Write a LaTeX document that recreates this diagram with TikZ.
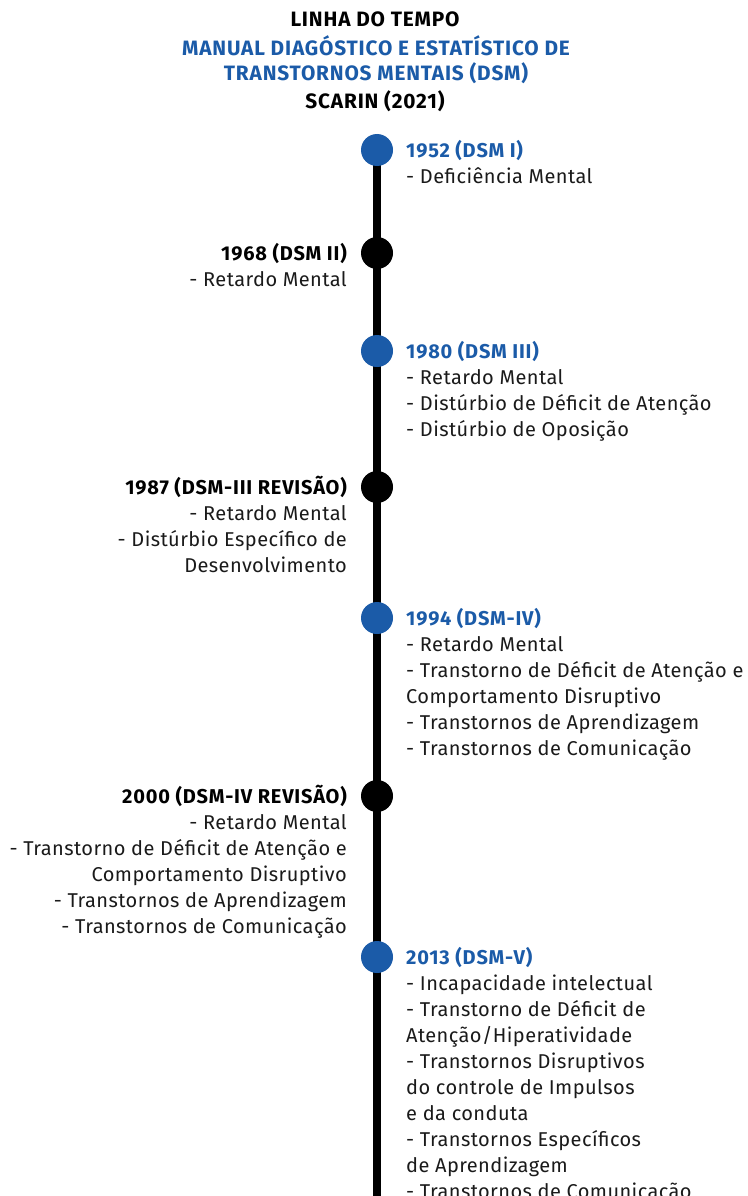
\documentclass[tikz,border=0pt]{standalone}
\usepackage{fontspec}
\setmainfont[LetterSpace=2.1, BoldFeatures={LetterSpace=4}]{Fira Sans}
\usetikzlibrary{positioning}
\definecolor{dsmblue}{HTML}{1B5BA8}
\definecolor{inkblack}{HTML}{1A1A1A}
\tikzset{
  dot/.style={circle, minimum size=32pt, inner sep=0pt},
  bluedot/.style={dot, fill=dsmblue},
  blackdot/.style={dot, fill=black},
  entry/.style={inner sep=0pt, text=inkblack, font=\fontsize{20}{26}\selectfont},
  rightentry/.style={entry, align=left, anchor=north west, xshift=29pt, yshift=11.2pt},
  leftentry/.style={entry, align=right, anchor=north east, xshift=-30pt, yshift=11.2pt},
  headline/.style={inner sep=0pt, anchor=base, font=\fontsize{20.8}{24}\selectfont\bfseries},
}
\newcommand{\bluehead}[1]{\strut{\bfseries\color{dsmblue}#1}}
\newcommand{\blackhead}[1]{\strut{\bfseries\color{black}#1}}
\begin{document}
\begin{tikzpicture}[x=1pt, y=-1pt]
    \useasboundingbox (0,0) rectangle (747,1196);
    % title
    \node[headline] (t1) at (375,27) {LINHA DO TEMPO};
    \node[headline, text=dsmblue] (t2) at (376,56) {MANUAL DIAGÓSTICO E ESTATÍSTICO DE};
    \node[headline, text=dsmblue] (t3) at (376,81) {TRANSTORNOS MENTAIS (DSM)};
    \node[headline] (t4) at (375,109) {SCARIN (2021)};
    % timeline
    \coordinate (bottom) at (377,1196);
    \coordinate (top) at (377,150);
    \draw[line width=8pt] (top) -- (bottom);
    \node[bluedot] (d1952) at (top) {};
    \node[blackdot] (d1968) at (377,253) {};
    \node[bluedot] (d1980) at (377,351) {};
    \node[blackdot] (d1987) at (377,487) {};
    \node[bluedot] (d1994) at (377,618) {};
    \node[blackdot] (d2000) at (377,796) {};
    \node[bluedot] (d2013) at (377,957) {};
    % entries
    \node[rightentry] (e1952) at (d1952.center) {\bluehead{1952 (DSM I)}\\- Deficiência Mental};
    \node[leftentry] (e1968) at (d1968.center) {\blackhead{1968 (DSM II)}\\- Retardo Mental};
    \node[rightentry] (e1980) at (d1980.center) {\bluehead{1980 (DSM III)}\\- Retardo Mental\\- Distúrbio de Déficit de Atenção\\- Distúrbio de Oposição};
    \node[leftentry] (e1987) at (d1987.center) {\blackhead{1987 (DSM-III REVISÃO)}\\- Retardo Mental\\- Distúrbio Específico de\\Desenvolvimento};
    \node[rightentry] (e1994) at (d1994.center) {\bluehead{1994 (DSM-IV)}\\- Retardo Mental\\- Transtorno de Déficit de Atenção e\\Comportamento Disruptivo\\- Transtornos de Aprendizagem\\- Transtornos de Comunicação};
    \node[leftentry] (e2000) at (d2000.center) {\blackhead{2000 (DSM-IV REVISÃO)}\\- Retardo Mental\\- Transtorno de Déficit de Atenção e\\Comportamento Disruptivo\\- Transtornos de Aprendizagem\\- Transtornos de Comunicação};
    \node[rightentry] (e2013) at (d2013.center) {\bluehead{2013 (DSM-V)}\\- Incapacidade intelectual\\- Transtorno de Déficit de\\Atenção/Hiperatividade\\- Transtornos Disruptivos\\do controle de Impulsos\\e da conduta\\- Transtornos Específicos\\de Aprendizagem\\- Transtornos de Comunicação};
\end{tikzpicture}
\end{document}
